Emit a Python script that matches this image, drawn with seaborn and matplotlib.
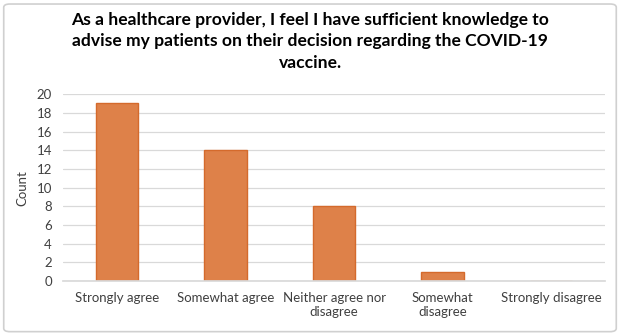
import matplotlib
matplotlib.use("Agg")
import matplotlib.pyplot as plt
import seaborn as sns
import pandas as pd
from matplotlib.patches import FancyBboxPatch

categories = ["Strongly agree", "Somewhat agree", "Neither agree nor\ndisagree",
              "Somewhat\ndisagree", "Strongly disagree"]
counts = [19, 14, 8, 1, 0]
yticks = [0, 2, 4, 6, 8, 10, 12, 14, 16, 18, 20]
title = ("As a healthcare provider, I feel I have sufficient knowledge to\n"
         "advise my patients on their decision regarding the COVID-19\nvaccine.")

sns.set_theme(style="white")
plt.rcParams['font.family'] = ['Lato', 'DejaVu Sans']

df = pd.DataFrame({"cat": categories, "count": counts})

fig = plt.figure(figsize=(6.2, 3.35), dpi=100)
ax = fig.add_axes([0.1016, 0.161, 0.8744, 0.558])
sns.barplot(data=df, x="cat", y="count", ax=ax, color="#DE8149",
            saturation=1, width=0.39, edgecolor="#D46A2C", linewidth=1)

ax.set_ylim(0, 20)
ax.set_yticks(yticks)
ax.set_yticklabels([str(t) for t in yticks], fontsize=9.5, color="#404040")
ax.tick_params(axis="x", labelsize=9.5, colors="#404040", length=0, pad=8)
ax.tick_params(axis="y", length=0, pad=8)
ax.yaxis.grid(True, color="#D9D9D9", linewidth=0.9)
ax.set_axisbelow(True)
for s in ["top", "right", "left"]:
    ax.spines[s].set_visible(False)
ax.spines["bottom"].set_color("#D9D9D9")
ax.set_xlabel("")
ax.set_ylabel("Count", fontsize=9.5, color="#404040", labelpad=6)

fig.text(0.5, 0.965, title, ha="center", va="top", fontsize=12.6,
         fontweight="bold", color="#000000", linespacing=1.42)

border = FancyBboxPatch((0.006, 0.01), 0.988, 0.978, boxstyle="round,pad=0,rounding_size=0.01",
                        transform=fig.transFigure, fill=False, edgecolor="#D0D0D0", linewidth=1.2)
fig.patches.append(border)

fig.savefig("out.png", dpi=100)
